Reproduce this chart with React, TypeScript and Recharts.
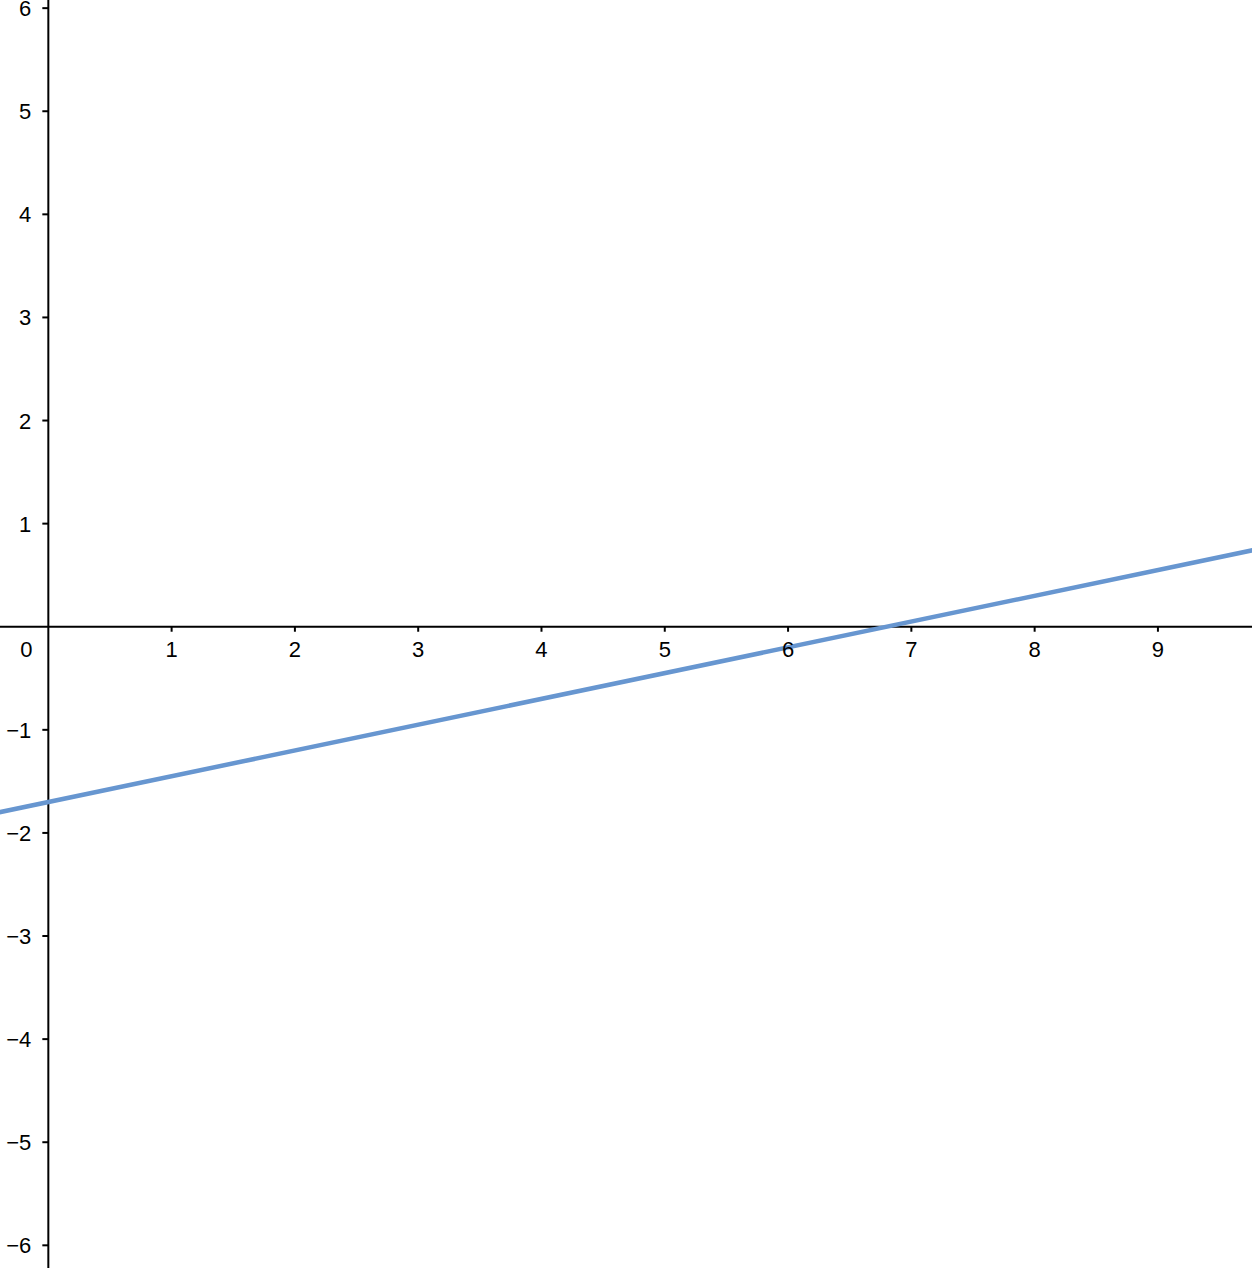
import { LineChart, Line, XAxis, YAxis, ReferenceLine, ReferenceDot } from "recharts";

// y = 0.25x - 1.7, sampled at the plot edges
const linePoints = [
  { x: -0.4, y: -1.8 },
  { x: 9.8, y: 0.75 },
];
const xTicks = [1, 2, 3, 4, 5, 6, 7, 8, 9];
const yTicks = [6, 5, 4, 3, 2, 1, -1, -2, -3, -4, -5, -6];

const xDomain = [-0.392, 9.763];
const yDomain = [-6.22, 6.079];

const font = "'Liberation Sans', Arial, Helvetica, sans-serif";
const fmt = (v: number) => (v < 0 ? "\u2212" + Math.abs(v) : String(v));

const XTick = (v: number) => (p: any) => (
  <g>
    <line x1={p.cx} x2={p.cx} y1={p.cy} y2={p.cy + 5} stroke="#000" strokeWidth={2} />
    <text x={p.cx} y={p.cy + 30} textAnchor="middle" fontSize={22} fontFamily={font} fill="#000">
      {fmt(v)}
    </text>
  </g>
);

const YTick = (v: number) => (p: any) => (
  <g>
    <line x1={p.cx - 6} x2={p.cx} y1={p.cy} y2={p.cy} stroke="#000" strokeWidth={2} />
    <text x={p.cx - 17} y={p.cy + 8} textAnchor="end" fontSize={22} fontFamily={font} fill="#000">
      {fmt(v)}
    </text>
  </g>
);

const Origin = (p: any) => (
  <text x={p.cx - 22} y={p.cy + 30} textAnchor="middle" fontSize={22} fontFamily={font} fill="#000">
    0
  </text>
);

export default function App() {
  return (
    <div style={{ position: "fixed", left: 0, top: 0, background: "#fff" }}>
      <LineChart width={1252} height={1268} data={linePoints} margin={{ top: 0, right: 0, bottom: 0, left: 0 }}>
        <XAxis type="number" dataKey="x" domain={xDomain} allowDataOverflow hide />
        <YAxis type="number" domain={yDomain} allowDataOverflow hide />
        <ReferenceLine y={0} stroke="#000" strokeWidth={2} />
        <ReferenceLine x={0} stroke="#000" strokeWidth={2} />
        {xTicks.map((v) => (
          <ReferenceDot key={"x" + v} x={v} y={0} r={0} shape={XTick(v)} />
        ))}
        {yTicks.map((v) => (
          <ReferenceDot key={"y" + v} x={0} y={v} r={0} shape={YTick(v)} />
        ))}
        <ReferenceDot x={0} y={0} r={0} shape={Origin} />
        <Line
          type="linear"
          dataKey="y"
          stroke="#6796d0"
          strokeWidth={4.5}
          dot={false}
          isAnimationActive={false}
        />
      </LineChart>
    </div>
  );
}
